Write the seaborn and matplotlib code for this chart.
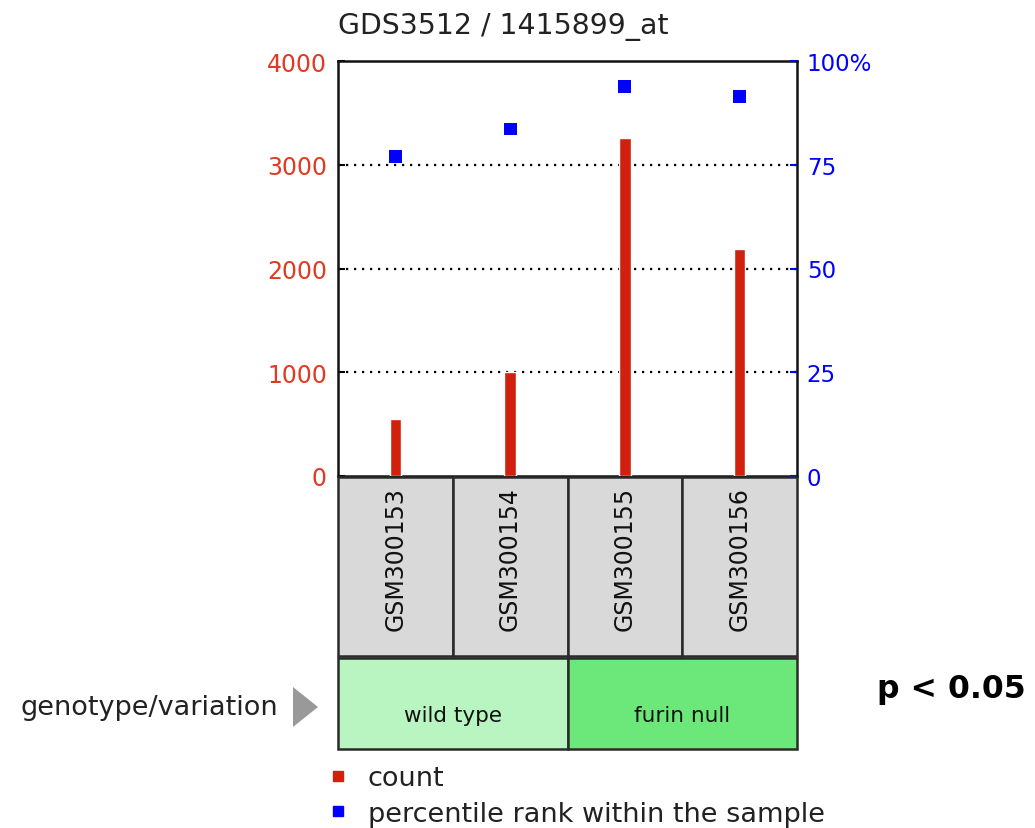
import numpy as np
import pandas as pd
import matplotlib
matplotlib.use('Agg')
import matplotlib.pyplot as plt
from matplotlib.patches import Rectangle, Polygon
from matplotlib.lines import Line2D
import seaborn as sns

# data
samples = ['GSM300153', 'GSM300154', 'GSM300155', 'GSM300156']
counts = [550, 1005, 3255, 2190]
percentiles = [77.0, 83.6, 93.8, 91.4]
groups = ['wild type', 'wild type', 'furin null', 'furin null']
group_colors = {'wild type': '#b8f5c0', 'furin null': '#6ce87a'}
left_ticks = [0, 1000, 2000, 3000, 4000]
right_ticks = [0, 25, 50, 75, 100]
right_labels = ['0', '25', '50', '75', '100%']

sns.set_style('white')
plt.rcParams['font.family'] = ['DejaVu Sans']

RED = '#d0200e'
RED_TXT = '#e03a22'
BLUE = '#0000ff'

df = pd.DataFrame({'sample': samples, 'count': counts,
                   'pct': percentiles, 'group': groups})
df['pos'] = np.arange(len(df))

W, H = 1035, 829
fig = plt.figure(figsize=(W / 100, H / 100), dpi=100)

def fx(px):
    return px / W

def fy(py):
    return 1 - py / H

# main plot area
ax = fig.add_axes([fx(338), fy(477), fx(797 - 338), (477 - 62) / H])
sns.barplot(data=df, x='pos', y='count', native_scale=True, width=0.1,
            color=RED, saturation=1, ax=ax, zorder=3)
ax.set_xlim(-0.5, 3.5)
ax.set_ylim(0, 4000)
ax.set_yticks(left_ticks)
ax.set_xticks(df['pos'])
ax.set_xticklabels([])
ax.set_xlabel('')
ax.set_ylabel('')
ax.tick_params(axis='y', direction='in', length=5, width=1.5, colors='black',
               labelcolor=RED_TXT, labelsize=17, pad=8)
ax.tick_params(axis='x', direction='in', length=5, width=1.5, colors='black')
for yv in left_ticks[1:-1]:
    ax.axhline(yv, color='black', lw=1.6, ls=(0, (1, 2.6)), zorder=1)
for sp in ax.spines.values():
    sp.set_color('#111111')
    sp.set_linewidth(1.8)
    sp.set_visible(True)

ax2 = ax.twinx()
sns.scatterplot(data=df, x='pos', y='pct', marker='s', s=85, color=BLUE,
                edgecolor='none', ax=ax2, zorder=4)
ax2.set_ylim(0, 100)
ax2.set_yticks(right_ticks)
ax2.set_yticklabels(right_labels)
ax2.set_ylabel('')
ax2.tick_params(axis='y', direction='in', length=5, width=1.5, colors=BLUE,
                labelcolor=BLUE, labelsize=16.5, pad=7)
for sp in ax2.spines.values():
    sp.set_visible(False)

# sample label cells
axs = fig.add_axes([fx(338), fy(657), fx(797 - 338), (657 - 478) / H])
axs.set_xlim(-0.5, 3.5)
axs.set_ylim(0, 1)
axs.axis('off')
for i, name in enumerate(samples):
    axs.add_patch(Rectangle((i - 0.5, 0), 1, 1, facecolor='#d9d9d9',
                            edgecolor='#2a2a2a', lw=1.8, clip_on=False))
    axs.text(i, 0.95, name, rotation=90, ha='center', va='top',
             fontsize=17, color='#111111')

# group cells
axg = fig.add_axes([fx(338), fy(750), fx(797 - 338), (750 - 659) / H])
axg.set_xlim(-0.5, 3.5)
axg.set_ylim(0, 1)
axg.axis('off')
for g in df['group'].unique():
    pos = df.loc[df['group'] == g, 'pos']
    x0, x1 = pos.min() - 0.5, pos.max() + 0.5
    axg.add_patch(Rectangle((x0, 0), x1 - x0, 1, facecolor=group_colors[g],
                            edgecolor='#2a2a2a', lw=1.8, clip_on=False))
    axg.text((x0 + x1) / 2, 0.37, g, ha='center', va='center',
             fontsize=15.5, color='#111111')

# title and annotations
fig.text(fx(338), fy(27), 'GDS3512 / 1415899_at', ha='left', va='center',
         fontsize=20.4, color='#222222')
fig.text(fx(278), fy(708), 'genotype/variation', ha='right', va='center',
         fontsize=19.5, color='#222222')
fig.patches.append(Polygon([[fx(293), fy(688)], [fx(293), fy(728)],
                            [fx(318), fy(708)]], closed=True,
                           facecolor='#999999', edgecolor='none',
                           transform=fig.transFigure, figure=fig))
fig.text(fx(877), fy(698), 'p < 0.05', ha='left', va='baseline',
         fontsize=22.7, fontweight='bold', color='black')

handles = [Line2D([], [], ls='', marker='s', ms=7.5, color=RED),
           Line2D([], [], ls='', marker='s', ms=7.5, color=BLUE)]
fig.legend(handles, ['count', 'percentile rank within the sample'],
           loc='upper left', bbox_to_anchor=(fx(327), fy(766)),
           frameon=False, fontsize=19.5, handlelength=0.8, handletextpad=0.71,
           labelspacing=0.36, borderpad=0, borderaxespad=0,
           labelcolor='#222222')

fig.savefig('out.png', dpi=100, facecolor='white')
